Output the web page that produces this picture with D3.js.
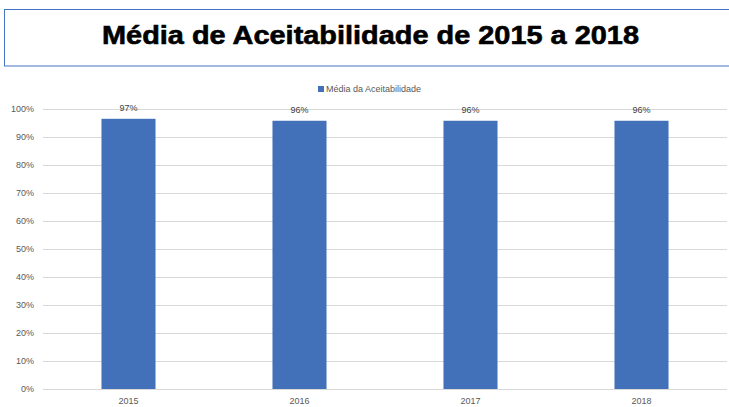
<!DOCTYPE html>
<html><head><meta charset="utf-8">
<script src="https://cdn.jsdelivr.net/npm/d3@7"></script>
<style>body{margin:0;background:#fff}svg{display:block}</style>
</head><body>
<svg id="c" width="729" height="407"></svg>
<script>
const categories = ["2015","2016","2017","2018"];
const values = [0.965, 0.958, 0.958, 0.958];
const valueLabels = ["97%","96%","96%","96%"];
const yTicks = [0,0.1,0.2,0.3,0.4,0.5,0.6,0.7,0.8,0.9,1.0];
const seriesName = "Média da Aceitabilidade";
const titleText = "Média de Aceitabilidade de 2015 a 2018";

const svg = d3.select("#c");
const W = 729, H = 407;
const m = {left: 43, right: 2, top: 109, bottom: 18};
const barColor = "#4270B9";
const textColor = "#595959";
const font = "'Liberation Sans', Arial, sans-serif";

// title box
svg.append("rect").attr("x",4.5).attr("y",9.5).attr("width",740).attr("height",56.5)
  .attr("fill","#fff").attr("stroke","#4472C4").attr("stroke-width",1);
svg.append("text").attr("x",102).attr("y",44)
  .attr("font-family","'Liberation Sans', Arial, sans-serif").attr("font-weight","bold")
  .attr("font-size",26).attr("fill","#000")
  .attr("textLength",537).attr("lengthAdjust","spacingAndGlyphs")
  .attr("stroke","#000").attr("stroke-width",0.6)
  .text(titleText);

const x = d3.scaleBand().domain(categories).range([m.left, W - m.right]).paddingInner(0.684).paddingOuter(0.342);
const y = d3.scaleLinear().domain([0,1]).range([H - m.bottom, m.top]);

// gridlines
svg.append("g").selectAll("line").data(yTicks).join("line")
  .attr("x1", m.left).attr("x2", W - m.right)
  .attr("y1", d => Math.round(y(d)) + 0.5).attr("y2", d => Math.round(y(d)) + 0.5)
  .attr("stroke", "#d9d9d9").attr("stroke-width", 1);

// y axis labels
const yAxis = d3.axisLeft(y).tickValues(yTicks).tickFormat(d3.format(".0%")).tickSize(0).tickPadding(9);
const ga = svg.append("g").attr("transform", `translate(${m.left},0)`).call(yAxis);
ga.select(".domain").remove();
ga.selectAll("text").attr("font-family", font).attr("font-size", 9).attr("fill", textColor);

// x axis labels
const xAxis = d3.axisBottom(x).tickSize(0).tickPadding(9);
const gx = svg.append("g").attr("transform", `translate(0,${H - m.bottom})`).call(xAxis);
gx.select(".domain").remove();
gx.selectAll("text").attr("font-family", font).attr("font-size", 9).attr("fill", textColor);

// bars
svg.append("g").selectAll("rect").data(values).join("rect")
  .attr("x", (d,i) => x(categories[i])).attr("width", x.bandwidth())
  .attr("y", d => y(d)).attr("height", d => y(0) - y(d))
  .attr("fill", barColor);

// value labels
svg.append("g").selectAll("text").data(values).join("text")
  .attr("x", (d,i) => x(categories[i]) + x.bandwidth()/2)
  .attr("y", d => y(d) - 7.5).attr("text-anchor","middle")
  .attr("font-family", font).attr("font-size", 9).attr("fill", "#404040")
  .text((d,i) => valueLabels[i]);

// legend
const lg = svg.append("g");
lg.append("rect").attr("x", 318).attr("y", 86).attr("width", 6).attr("height", 6).attr("fill", barColor);
lg.append("text").attr("x", 326).attr("y", 92).attr("font-family", font).attr("font-size", 9)
  .attr("fill", textColor).text(seriesName);
</script>
</body></html>
